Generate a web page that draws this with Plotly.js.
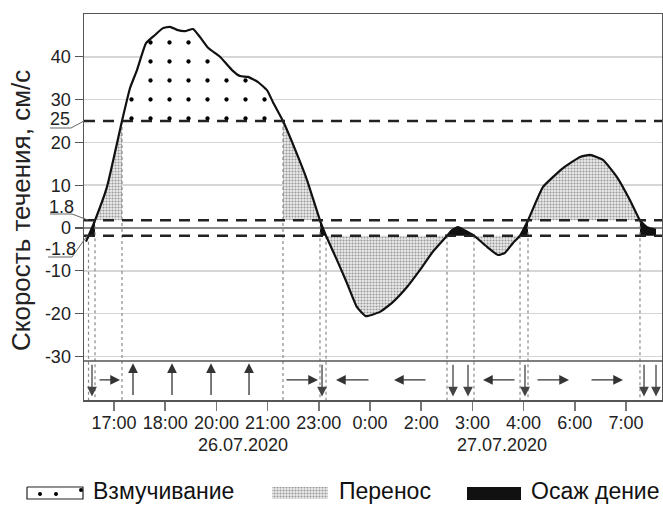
<!DOCTYPE html>
<html><head><meta charset="utf-8">
<script src="https://cdn.plot.ly/plotly-3.0.1.min.js"></script>
<style>html,body{margin:0;padding:0;background:#fff}</style>
</head><body><div id="chart" style="width:663px;height:505px"></div>
<script>
// ---------- data ----------
const tickPos = [1,2,3,4,5,6,7,8,9,10,11];
const tickLabels = ['17:00','18:00','20:00','21:00','23:00','0:00','2:00','3:00','4:00','6:00','7:00'];
const datePos = [3.52, 8.58];
const dateLabels = ['26.07.2020','27.07.2020'];
// time in tick-index units (17:00 = 1, 18:00 = 2, ...)
const time = [0.453,0.629,0.863,1.156,1.313,1.449,1.625,1.801,1.957,2.094,
  2.230,2.387,2.543,2.680,2.836,3.070,3.305,3.461,3.617,3.813,
  3.988,4.105,4.301,4.633,4.770,5.023,5.141,5.355,5.551,5.746,
  5.922,6.195,6.430,6.723,6.977,7.230,7.504,7.602,7.719,7.855,
  8.031,8.285,8.500,8.637,8.793,8.930,9.086,9.379,9.770,10.102,
  10.297,10.551,10.824,11.078,11.273,11.410,11.586];
// current speed, cm/s
const speed = [-3.2,1.8,9.6,25,32.7,36.9,43.2,45.1,46.7,47,
  46.3,46,46.5,44.6,42.1,40,36.9,35.5,35.3,34.1,
  32.2,29.4,25,15.5,11.2,1.8,-1.8,-7.5,-12.9,-18.5,
  -20.6,-19.6,-17.5,-13.8,-9.8,-5.5,-1.8,-0.5,0.2,-0.6,
  -1.8,-4.4,-6.3,-5.8,-3.5,-1.8,1.8,9.6,14,16.6,
  17.1,15.9,11.9,6.5,1.8,0.2,-0.4];
const yTickVals = [-30,-20,-10,0,10,20,30,40];
const thresholds = [25, 1.8, -1.8];
const thresholdLabels = ['25','1.8','-1.8'];
const arrowsDown = [0.570, 5.063, 7.621, 7.914, 9.027, 11.352, 11.586];
const arrowsUp = [1.371, 2.133, 2.895, 3.637];
const arrowsRight = [[0.688,1.117],[4.340,4.984],[9.242,9.887],[10.297,10.941]]; // [tail, tip]
const arrowsLeft = [[6.0,5.336],[7.113,6.469],[8.852,8.207]];                     // [tail, tip]
const legendNames = ['Взмучивание','Перенос','Осаж дение'];
const yTitle = 'Скорость течения, см/с';

// ---------- geometry ----------
const W = 663, H = 505;
const L = 84, R = 662, T = 14, B = 400;
const xRange = [0.414, 11.703];
const yRange = [-40.19, 50];
const stripTop = -31.1;
const px = v => v / W;
const py = v => 1 - v / H;
const FONT = 'Liberation Sans, Arial, sans-serif';

function bandPolys(X, V, lo, hi, base) {
  const polys = []; let cur = null;
  for (let i = 0; i < X.length - 1; i++) {
    const x0 = X[i], x1 = X[i+1], v0 = V[i], v1 = V[i+1];
    let t0 = 0, t1 = 1;
    if (v1 === v0) { if (v0 < lo || v0 > hi) { t0 = 1; t1 = 0; } }
    else {
      const ta = (lo - v0) / (v1 - v0), tb = (hi - v0) / (v1 - v0);
      t0 = Math.max(0, Math.min(ta, tb)); t1 = Math.min(1, Math.max(ta, tb));
    }
    if (t0 > t1) { if (cur) { polys.push(cur); cur = null; } continue; }
    const pa = [x0 + (x1-x0)*t0, v0 + (v1-v0)*t0], pb = [x0 + (x1-x0)*t1, v0 + (v1-v0)*t1];
    if (!cur) cur = [pa]; else if (t0 > 0) { polys.push(cur); cur = [pa]; }
    cur.push(pb);
    if (t1 < 1) { polys.push(cur); cur = null; }
  }
  if (cur) polys.push(cur);
  return polys.filter(p => p.length > 1).map(p => p.concat([[p[p.length-1][0], base], [p[0][0], base], p[0]]));
}

const dotPattern = {shape: '.', size: 19, solidity: 0.04, fgcolor: '#000', bgcolor: '#fff', fillmode: 'replace'};
const grayPattern = {shape: '.', size: 3, solidity: 0.4, fgcolor: '#999', bgcolor: '#ececec', fillmode: 'replace'};

const traces = [];
function addPolys(polys, style) {
  polys.forEach(p => traces.push(Object.assign({
    type: 'scatter', mode: 'lines', x: p.map(q => q[0]), y: p.map(q => q[1]),
    fill: 'toself', line: {width: 0, color: 'rgba(0,0,0,0)'}, hoverinfo: 'skip', showlegend: false
  }, style)));
}
addPolys(bandPolys(time, speed, 25, Infinity, 25), {fillcolor: '#fff', fillpattern: dotPattern});
addPolys(bandPolys(time, speed, 1.8, 25, 1.8), {fillcolor: '#ececec', fillpattern: grayPattern});
addPolys(bandPolys(time, speed, -Infinity, -1.8, -1.8), {fillcolor: '#ececec', fillpattern: grayPattern});
addPolys(bandPolys(time, speed, -1.8, 1.8, -1.8), {fillcolor: '#111'});

// vertical dotted lines at threshold crossings
const dx = [], dy = [];
thresholds.forEach(c => {
  for (let i = 0; i < time.length; i++) {
    let xc = null;
    if (speed[i] === c) xc = time[i];
    else if (i < time.length - 1 && (speed[i] - c) * (speed[i+1] - c) < 0)
      xc = time[i] + (time[i+1] - time[i]) * (c - speed[i]) / (speed[i+1] - speed[i]);
    if (xc !== null) { dx.push(xc, xc, null); dy.push(c, yRange[0], null); }
  }
});
traces.push({type: 'scatter', mode: 'lines', x: dx, y: dy, line: {color: '#8a8a8a', width: 1.2, dash: 'dot'}, hoverinfo: 'skip', showlegend: false});

// main curve
traces.push({type: 'scatter', mode: 'lines', x: time, y: speed, line: {color: '#111', width: 2.2, shape: 'spline', smoothing: 0.4}, hoverinfo: 'skip', showlegend: false});

// legend swatches (overlay axes in pixel units)
function rectTrace(x0, x1, y0, y1, style) {
  return Object.assign({type: 'scatter', mode: 'lines', xaxis: 'x2', yaxis: 'y2',
    x: [x0, x1, x1, x0, x0], y: [y0, y0, y1, y1, y0], fill: 'toself', hoverinfo: 'skip', showlegend: false}, style);
}
traces.push(rectTrace(27, 83, 487, 499, {line: {color: '#222', width: 1.2}, fillcolor: '#fff'}));
traces.push({type: 'scatter', mode: 'markers', xaxis: 'x2', yaxis: 'y2', x: [40, 56, 81], y: [494, 494, 490],
  marker: {size: 4, color: '#000'}, hoverinfo: 'skip', showlegend: false});
traces.push(rectTrace(272, 328, 487, 499, {line: {width: 0}, fillcolor: '#ececec', fillpattern: grayPattern}));
traces.push(rectTrace(467, 521, 487, 500, {line: {width: 0}, fillcolor: '#111'}));

// ---------- annotations ----------
const ann = [];
function arrowAnn(x, y, ax, ay, color) {
  return {x, y, ax, ay, xref: 'x', yref: 'y', axref: 'x', ayref: 'y', text: '', showarrow: true,
    arrowhead: 2, arrowsize: 1.5, arrowwidth: 1.3, arrowcolor: color, standoff: 0, startstandoff: 0};
}
const yTop = -31.6, yBot = -39.4, yMid = -35.5;
arrowsDown.forEach(x => ann.push(arrowAnn(x, yBot, x, yTop, '#444')));
arrowsUp.forEach(x => ann.push(arrowAnn(x, yTop, x, yBot, '#333')));
arrowsRight.forEach(([a, b]) => ann.push(arrowAnn(b, yMid, a, yMid, '#333')));
arrowsLeft.forEach(([a, b]) => ann.push(arrowAnn(b, yMid, a, yMid, '#333')));

dateLabels.forEach((t, i) => ann.push({x: datePos[i], y: py(445), xref: 'x', yref: 'paper', text: t, showarrow: false,
  font: {size: 18, color: '#222', family: FONT}, xanchor: 'center', yanchor: 'middle'}));

ann.push({x: px(21), y: py(211), xref: 'paper', yref: 'paper', text: yTitle, textangle: -90, showarrow: false,
  font: {size: 26, color: '#222', family: FONT}, xanchor: 'center', yanchor: 'middle'});

const legX = [91, 337, 529];
legendNames.forEach((t, i) => ann.push({x: px(legX[i]), y: py(491), xref: 'paper', yref: 'paper', text: t, showarrow: false,
  font: {size: 23, color: '#111', family: FONT}, xanchor: 'left', yanchor: 'middle'}));

// threshold labels with leader lines
const thrLabelPix = [[60, 119], [61, 207], [60, 249]];
const leaders = [
  [[50,128],[71,128],[84,121]],
  [[50,214],[72,214],[88,220]],
  [[48,257],[72,257],[87,236]]
];
thresholdLabels.forEach((t, i) => ann.push({x: px(thrLabelPix[i][0]), y: py(thrLabelPix[i][1]), xref: 'paper', yref: 'paper',
  text: t, showarrow: false, font: {size: 18, color: '#222', family: FONT}, xanchor: 'center', yanchor: 'middle'}));

// ---------- shapes ----------
const shapes = [];
thresholds.forEach(c => shapes.push({type: 'line', xref: 'paper', yref: 'y', x0: px(L), x1: px(R), y0: c, y1: c,
  line: {color: '#222', width: 2.6, dash: '11px,8px'}, layer: 'above'}));
shapes.push({type: 'line', xref: 'paper', yref: 'y', x0: px(L), x1: px(R), y0: stripTop, y1: stripTop,
  line: {color: '#555', width: 1.5}, layer: 'above'});
leaders.forEach(p => shapes.push({type: 'path', xref: 'paper', yref: 'paper',
  path: 'M' + p.map(q => px(q[0]) + ',' + py(q[1])).join(' L'), line: {color: '#666', width: 1}}));

const layout = {
  width: W, height: H, margin: {l: 0, r: 0, t: 0, b: 0}, autosize: false,
  paper_bgcolor: '#fff', plot_bgcolor: 'rgba(0,0,0,0)',
  font: {family: FONT, color: '#222'}, showlegend: false,
  xaxis: {domain: [px(L), px(R)], range: xRange, tickvals: tickPos, ticktext: tickLabels,
    ticks: 'outside', ticklen: 9, tickwidth: 1.5, tickcolor: '#777', tickfont: {size: 18, color: '#222'},
    ticklabelstandoff: -3,
    showgrid: false, zeroline: false, showline: true, linecolor: '#555', linewidth: 1.5, mirror: true, fixedrange: true},
  yaxis: {domain: [1 - B / H, 1 - T / H], range: yRange, tickvals: yTickVals, ticktext: yTickVals.map(String),
    ticks: 'outside', ticklen: 8, tickwidth: 1.2, tickcolor: '#555', tickfont: {size: 18, color: '#222'},
    showgrid: true, gridcolor: '#d6d6d6', gridwidth: 1.5, zeroline: true, zerolinecolor: '#888', zerolinewidth: 1.2,
    showline: true, linecolor: '#555', linewidth: 1.5, mirror: true, fixedrange: true},
  xaxis2: {domain: [0, 1], range: [0, W], visible: false, anchor: 'y2', fixedrange: true},
  yaxis2: {domain: [0, 1], range: [H, 0], visible: false, anchor: 'x2', fixedrange: true},
  annotations: ann, shapes: shapes
};
Plotly.newPlot('chart', traces, layout, {staticPlot: true, displayModeBar: false});
</script></body></html>
